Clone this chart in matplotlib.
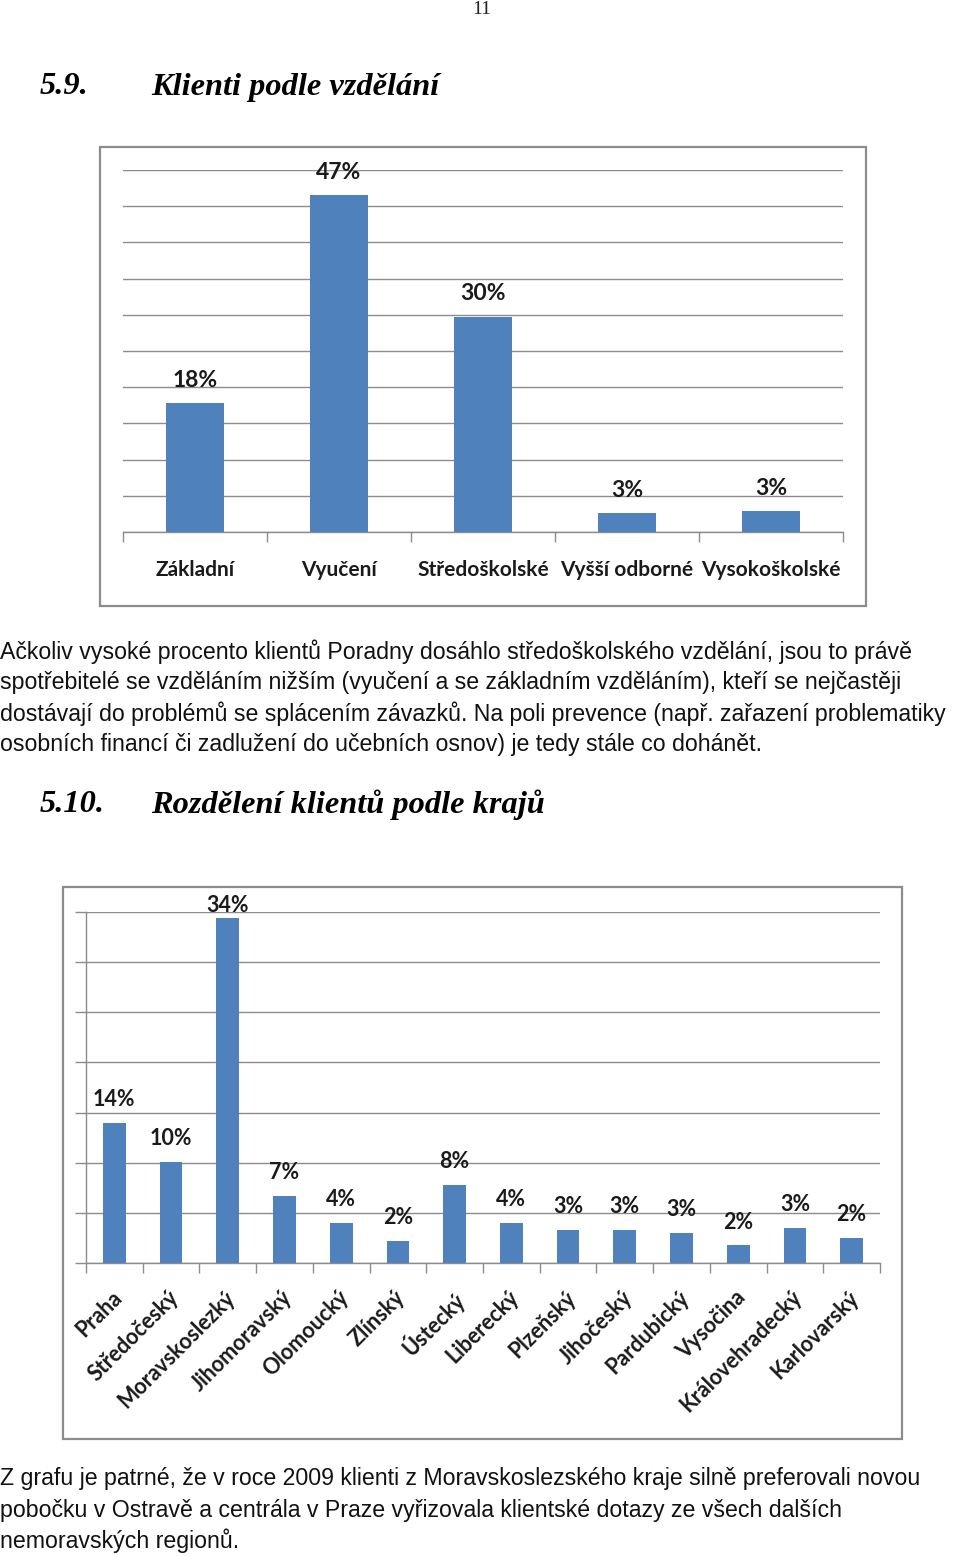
import matplotlib
matplotlib.use("Agg")
import matplotlib.pyplot as plt
from matplotlib.patches import Rectangle
from matplotlib.transforms import blended_transform_factory

# ---------------- data ----------------
edu_categories = ["Základní", "Vyučení", "Středoškolské", "Vyšší odborné", "Vysokoškolské"]
edu_values = [17.8, 46.5, 29.7, 2.6, 2.9]
edu_labels = ["18%", "47%", "30%", "3%", "3%"]

region_categories = ["Praha", "Středočeský", "Moravskoslezký", "Jihomoravský", "Olomoucký",
                     "Zlínský", "Ústecký", "Liberecký", "Plzeňský", "Jihočeský",
                     "Pardubický", "Vysočina", "Královehradecký", "Karlovarský"]
region_values = [14.0, 10.1, 34.4, 6.7, 4.0, 2.2, 7.8, 4.0, 3.3, 3.3, 3.0, 1.75, 3.5, 2.5]
region_labels = ["14%", "10%", "34%", "7%", "4%", "2%", "8%", "4%", "3%", "3%", "3%", "2%", "3%", "2%"]

para1 = ["Ačkoliv vysoké procento klientů Poradny dosáhlo středoškolského vzdělání, jsou to právě",
         "spotřebitelé se vzděláním nižším (vyučení a se základním vzděláním), kteří se nejčastěji",
         "dostávají do problémů se splácením závazků. Na poli prevence (např. zařazení problematiky",
         "osobních financí či zadlužení do učebních osnov) je tedy stále co dohánět."]
para2 = ["Z grafu je patrné, že v roce 2009 klienti z Moravskoslezského kraje silně preferovali novou",
         "pobočku v Ostravě a centrála v Praze vyřizovala klientské dotazy ze všech dalších",
         "nemoravských regionů."]

# ---------------- layout ----------------
W, H = 960, 1556
fig = plt.figure(figsize=(W / 100, H / 100), dpi=100)
fig.patch.set_facecolor("white")

BAR = "#4F81BD"
GRID = "#8C8C8C"
FRAME = "#8C8C8C"
CHART_FONT = ["Lato", "DejaVu Sans"]
SERIF = ["Liberation Serif", "DejaVu Serif"]
SANS = ["Liberation Sans", "DejaVu Sans"]
PX2PT = 72 / 100


def fx(x):
    return x / W


def fy(y):
    return 1 - y / H


def ptext(x, y, s, **kw):
    fig.text(fx(x), fy(y), s, **kw)


def frame(x0, y0, x1, y1):
    fig.patches.append(Rectangle((fx(x0), fy(y1)), fx(x1) - fx(x0), fy(y0) - fy(y1),
                                 transform=fig.transFigure, fill=False,
                                 edgecolor=FRAME, linewidth=1.6, zorder=0))


def add_ax(x0, y0, x1, y1):
    return fig.add_axes([fx(x0), fy(y1), fx(x1) - fx(x0), fy(y0) - fy(y1)])


def data_labels(ax, vals, labs, y0px, y1px, vmax, size, min_px):
    # label centre 23 px above bar top, but not above min_px (page y)
    for i, (v, lab) in enumerate(zip(vals, labs)):
        top_px = y1px - (y1px - y0px) * v / vmax
        off_px = min(23, top_px - min_px)
        ax.annotate(lab, (i, v), xytext=(0, off_px * PX2PT), textcoords="offset points",
                    ha="center", va="center", fontsize=size, family=CHART_FONT,
                    weight="bold", color="#1a1a1a", annotation_clip=False)


# page number
ptext(482, 9, "11", fontsize=14, family=SERIF, ha="center", va="center", color="#222222")

# heading 1
HS = 23.3
ptext(40, 87, "5.9.", fontsize=HS, family=SERIF, weight="bold", style="italic", va="center")
ptext(151, 87, "Klienti podle vzdělání", fontsize=HS, family=SERIF, weight="bold", style="italic", va="center")

# ---------------- chart 1 ----------------
frame(100, 147, 866, 606)
ax1 = add_ax(123, 170, 843, 532)
x1 = list(range(len(edu_categories)))
ax1.bar(x1, edu_values, width=0.4, color=BAR, zorder=3)
ax1.set_xlim(-0.5, len(edu_categories) - 0.5)
ax1.set_ylim(0, 50)
ax1.set_yticks(range(0, 51, 5))
ax1.yaxis.grid(True, color=GRID, linewidth=1.0, zorder=0)
ax1.tick_params(axis="y", length=0, labelleft=False)
for s in ["top", "right", "left"]:
    ax1.spines[s].set_visible(False)
ax1.spines["bottom"].set_color(GRID)
ax1.spines["bottom"].set_linewidth(1.0)
ax1.set_xticks([i - 0.5 for i in range(len(edu_categories) + 1)])
ax1.set_xticklabels([])
ax1.tick_params(axis="x", length=7, color=GRID, width=1.0)
trans1 = blended_transform_factory(ax1.transData, fig.transFigure)
for i, c in enumerate(edu_categories):
    ax1.text(i, fy(570), c, transform=trans1, ha="center", va="center",
             fontsize=15, family=CHART_FONT, weight="bold", color="#1a1a1a")
data_labels(ax1, edu_values, edu_labels, 170, 532, 50, 16.5, 150)

# paragraph 1
BS = 16.7
for k, line in enumerate(para1):
    ptext(0, 652 + 31 * k, line, fontsize=BS, family=SANS, va="center", color="#111111")

# heading 2
ptext(40, 805, "5.10.", fontsize=HS, family=SERIF, weight="bold", style="italic", va="center")
ptext(151, 805, "Rozdělení klientů podle krajů", fontsize=HS, family=SERIF, weight="bold", style="italic", va="center")

# ---------------- chart 2 ----------------
frame(63, 887, 902, 1439)
ax2 = add_ax(86, 912, 880, 1263)
x2 = list(range(len(region_categories)))
ax2.bar(x2, region_values, width=0.4, color=BAR, zorder=3)
ax2.set_xlim(-0.5, len(region_categories) - 0.5)
ax2.set_ylim(0, 35)
ax2.set_yticks(range(0, 36, 5))
ax2.yaxis.grid(True, color=GRID, linewidth=1.0, zorder=0)
ax2.tick_params(axis="y", length=8, color=GRID, width=1.0, labelleft=False)
for s in ["top", "right"]:
    ax2.spines[s].set_visible(False)
for s in ["bottom", "left"]:
    ax2.spines[s].set_color(GRID)
    ax2.spines[s].set_linewidth(1.0)
ax2.set_xticks([i - 0.5 for i in range(len(region_categories) + 1)])
ax2.set_xticklabels([])
ax2.tick_params(axis="x", length=7, color=GRID, width=1.0)
trans2 = blended_transform_factory(ax2.transData, fig.transFigure)
for i, c in enumerate(region_categories):
    ax2.text(i - 0.06, fy(1287), c, transform=trans2, ha="right", va="top",
             rotation=45, rotation_mode="anchor",
             fontsize=15.5, family=CHART_FONT, weight="bold", color="#1a1a1a")
data_labels(ax2, region_values, region_labels, 912, 1263, 35, 15.5, 905)

# paragraph 2
for k, line in enumerate(para2):
    ptext(0, 1479 + 31 * k, line, fontsize=BS, family=SANS, va="center", color="#111111")

fig.savefig("out.png", dpi=100, facecolor="white")
